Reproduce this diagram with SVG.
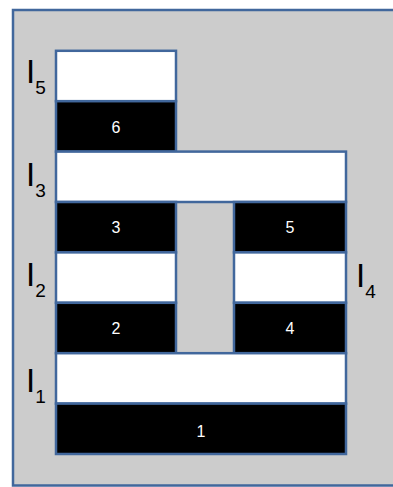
<svg xmlns="http://www.w3.org/2000/svg" width="393" height="487" viewBox="0 0 393 487">
<style>
.bg{fill:#cccccc;stroke:#41679c;stroke-width:2.5}
.w{fill:#ffffff;stroke:#41679c;stroke-width:2.5}
.b{fill:#000000;stroke:#41679c;stroke-width:2.5}
.n{font-family:"Liberation Sans",Arial,sans-serif;font-size:16px;fill:#ffffff;text-anchor:middle}
.l{font-family:"Liberation Sans",Arial,sans-serif;font-size:33px;fill:#000000}
.s{font-size:19px}
</style>
<rect class="bg" x="13" y="10" width="400" height="475.5"/>
<g id="frame-I5"><rect class="w" x="56" y="50.8" width="120" height="50.4"/></g>
<g id="box6"><rect class="b" x="56" y="101.2" width="120" height="50.4"/><text class="n" x="116" y="132.5">6</text></g>
<g id="frame-I3"><rect class="w" x="56" y="151.6" width="290" height="50.4"/></g>
<g id="box3"><rect class="b" x="56" y="202" width="120" height="50.4"/><text class="n" x="116" y="233">3</text></g>
<g id="box5"><rect class="b" x="234" y="202" width="112" height="50.4"/><text class="n" x="290" y="233">5</text></g>
<g id="frame-I2"><rect class="w" x="56" y="252.4" width="120" height="50.4"/></g>
<g id="frame-I4"><rect class="w" x="234" y="252.4" width="112" height="50.4"/></g>
<g id="box2"><rect class="b" x="56" y="302.8" width="120" height="50.4"/><text class="n" x="116" y="334">2</text></g>
<g id="box4"><rect class="b" x="234" y="302.8" width="112" height="50.4"/><text class="n" x="290" y="334">4</text></g>
<g id="frame-I1"><rect class="w" x="56" y="353.2" width="290" height="50.4"/></g>
<g id="box1"><rect class="b" x="56" y="403.6" width="290" height="50.4"/><text class="n" x="201" y="437">1</text></g>
<g id="labels">
<text class="l" x="26" y="83">I<tspan class="s" dy="11">5</tspan></text>
<text class="l" x="26" y="186">I<tspan class="s" dy="11">3</tspan></text>
<text class="l" x="26" y="286">I<tspan class="s" dy="11">2</tspan></text>
<text class="l" x="26" y="392">I<tspan class="s" dy="11">1</tspan></text>
<text class="l" x="356" y="287">I<tspan class="s" dy="11">4</tspan></text>
</g>
</svg>
